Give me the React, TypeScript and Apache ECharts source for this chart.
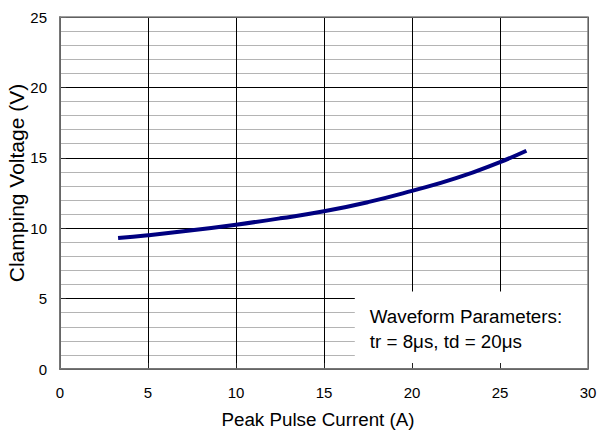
import React, { useEffect, useRef } from "react";
import * as echarts from "echarts";

const currentA = [3.3, 5, 7.5, 10, 12.5, 15, 17.5, 20, 22.5, 25, 26.5];
const voltageV = [9.3, 9.5, 9.85, 10.25, 10.7, 11.2, 11.85, 12.65, 13.55, 14.7, 15.5];
const xTicks = [0, 5, 10, 15, 20, 25, 30];
const yTicks = [0, 5, 10, 15, 20, 25];
const noteLines = ["Waveform Parameters:", "tr = 8μs, td = 20μs"];

const FONT = "Liberation Sans, Arial, sans-serif";

export default function App() {
  const ref = useRef<HTMLDivElement>(null);
  useEffect(() => {
    if (!ref.current) return;
    const chart = echarts.init(ref.current, null, { renderer: "svg" });
    const gridL = 60, gridT = 17, gridR = 12, gridB = 65;
    const W = 600, H = 434;
    const plotW = W - gridL - gridR;
    const plotH = H - gridT - gridB;
    const xMax = xTicks[xTicks.length - 1];
    const yMax = yTicks[yTicks.length - 1];
    const boxLeft = gridL + (16.75 / xMax) * plotW;
    const boxTop = gridT + plotH * (1 - 5.5 / yMax);
    chart.setOption({
      animation: false,
      backgroundColor: "#ffffff",
      textStyle: { fontFamily: FONT },
      grid: {
        left: gridL,
        top: gridT,
        right: gridR,
        bottom: gridB,
        containLabel: false,
        outerBoundsMode: "none",
      },
      xAxis: [
        {
          type: "value",
          min: 0,
          max: xMax,
          interval: 5,
          z: 0,
          name: "Peak Pulse Current (A)",
          nameLocation: "middle",
          nameGap: 41,
          nameMoveOverlap: false,
          nameTextStyle: { fontSize: 18.8, color: "#000", fontFamily: FONT, padding: [0, 12, 0, 0] },
          axisLabel: { fontSize: 15, color: "#000", margin: 16, fontFamily: FONT },
          axisLine: { show: false },
          axisTick: { show: false },
          splitLine: { show: true, lineStyle: { color: "#000", width: 1 } },
        },
        {
          type: "value",
          min: 0,
          max: xMax,
          interval: 5,
          position: "bottom",
          z: 5,
          axisLabel: { show: false },
          axisLine: { show: true, onZero: false, lineStyle: { color: "#222", width: 1.5 } },
          axisTick: { show: true, inside: true, length: 6, lineStyle: { color: "#222" } },
          splitLine: { show: false },
        },
      ],
      yAxis: [
        {
          type: "value",
          min: 0,
          max: yMax,
          interval: 5,
          z: 0,
          name: "Clamping Voltage (V)",
          nameLocation: "middle",
          nameGap: 33,
          nameMoveOverlap: false,
          nameTextStyle: { fontSize: 21, color: "#000", fontFamily: FONT, padding: [0, 0, 0, 20] },
          axisLabel: { fontSize: 15, color: "#000", margin: 13, fontFamily: FONT },
          axisLine: { show: false },
          axisTick: { show: false },
          minorTick: { show: false, splitNumber: 5 },
          minorSplitLine: { show: true, lineStyle: { color: "#b4b4b4", width: 1 } },
          splitLine: { show: true, lineStyle: { color: "#000", width: 1 } },
        },
        {
          type: "value",
          min: 0,
          max: yMax,
          interval: 5,
          position: "left",
          z: 5,
          axisLabel: { show: false },
          axisLine: { show: true, onZero: false, lineStyle: { color: "#222", width: 1.5 } },
          axisTick: { show: true, inside: true, length: 6, lineStyle: { color: "#222" } },
          splitLine: { show: false },
        },
      ],
      graphic: [
        {
          type: "rect",
          z: 2,
          shape: { x: boxLeft, y: boxTop, width: W - gridR - boxLeft, height: H - gridB - boxTop },
          style: { fill: "#ffffff" },
        },
        {
          type: "rect",
          z: 6,
          shape: { x: gridL, y: gridT, width: plotW, height: plotH },
          style: { fill: "none", stroke: "#808080", lineWidth: 1.5 },
          silent: true,
        },
        {
          type: "text",
          z: 7,
          x: boxLeft + 15,
          y: boxTop + 12,
          style: {
            text: noteLines.join("\n"),
            fontSize: 18.8,
            lineHeight: 25,
            fill: "#000",
            fontFamily: FONT,
          },
        },
      ],
      series: [
        {
          type: "line",
          xAxisIndex: 0,
          yAxisIndex: 0,
          z: 8,
          smooth: true,
          showSymbol: false,
          data: currentA.map((x, i) => [x, voltageV[i]]),
          lineStyle: { color: "#000080", width: 4 },
        },
      ],
    });
    return () => chart.dispose();
  }, []);
  return <div ref={ref} style={{ width: 600, height: 434, position: "absolute", left: 0, top: 0 }} />;
}
